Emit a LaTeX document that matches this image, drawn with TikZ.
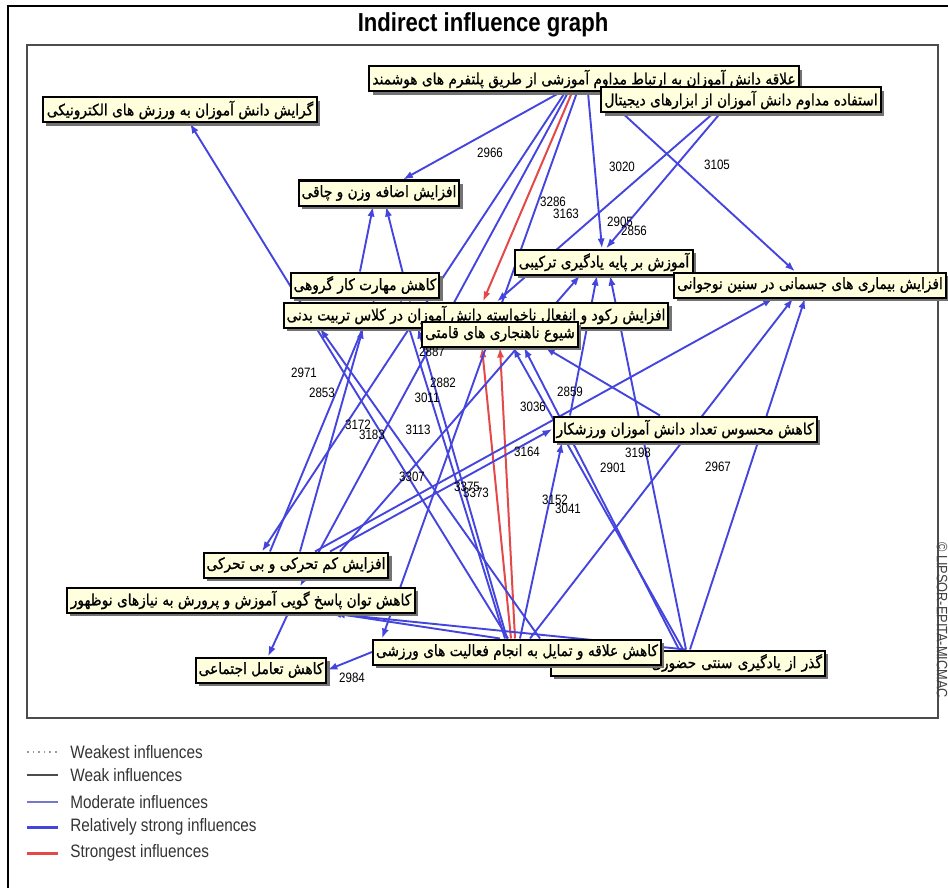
\documentclass[tikz,border=0pt]{standalone}
\usepackage{fontspec}
\setmainfont{Liberation Sans}
\newfontfamily\farsi[Script=Arabic,FakeStretch=0.88,FakeBold=1]{DejaVu Sans}
\newfontfamily\narrowsans[FakeStretch=0.85]{Liberation Sans}
\TeXXeTstate=1
\usetikzlibrary{arrows.meta,shadows,backgrounds}

\definecolor{relblue}{RGB}{68,68,222}
\definecolor{topred}{RGB}{228,72,72}
\definecolor{modblue}{RGB}{118,118,205}
\definecolor{boxyellow}{RGB}{255,255,222}

\tikzset{
    factor/.style={draw=black, line width=1pt, fill=boxyellow, inner sep=1.5pt,
        minimum height=12.5pt, font=\farsi\fontsize{7.8}{9}\selectfont,
        drop shadow={shadow xshift=1.6pt, shadow yshift=-1.6pt, fill=black!55, opacity=1}},
    relstrong/.style={draw=relblue, line width=0.95pt, -{Latex[length=5pt,width=3.6pt]}},
    strongest/.style={draw=topred, line width=1pt, -{Latex[length=5pt,width=3.6pt]}},
    val/.style={font=\narrowsans\fontsize{6.8}{7}\selectfont, inner sep=0pt},
    legtext/.style={font=\narrowsans\fontsize{9}{10}\selectfont, text=black!80, anchor=west, inner sep=0pt},
}

\begin{document}
\begin{tikzpicture}[x=0.5pt, y=-0.5pt]
    \useasboundingbox (0,0) rectangle (948,888);
    \draw[line width=1pt] (8,888) -- (8,6) -- (948,6);
    \node[font=\narrowsans\bfseries\fontsize{13}{15}\selectfont] (title) at (483,25) {Indirect influence graph};

    % factors
    \node[factor, minimum width=211pt] (n1) at (584,79) {\beginR علاقه دانش آموزان به ارتباط مداوم آموزشی از طریق پلتفرم های هوشمند\endR};
    \node[factor, minimum width=134pt] (n2) at (741,100) {\beginR استفاده مداوم دانش آموزان از ابزارهای دیجیتال\endR};
    \node[factor, minimum width=137pt] (n3) at (180,110) {\beginR گرایش دانش آموزان به ورزش های الکترونیکی\endR};
    \node[factor, minimum width=77pt] (n4) at (379,193) {\beginR افزایش اضافه وزن و چاقی\endR};
    \node[factor, minimum width=73pt] (n5) at (365,285) {\beginR کاهش مهارت کار گروهی\endR};
    \node[factor, minimum width=89pt] (n6) at (604,262) {\beginR آموزش بر پایه یادگیری ترکیبی\endR};
    \node[factor, minimum width=128pt] (n7) at (810,285) {\beginR افزایش بیماری های جسمانی در سنین نوجوانی\endR};
    \node[factor, minimum width=188pt] (n8) at (476,315) {\beginR افزایش رکود و انفعال ناخواسته دانش آموزان در کلاس تربیت بدنی\endR};
    \node[factor, minimum width=77pt] (n9) at (500,334) {\beginR شیوع ناهنجاری های قامتی\endR};
    \node[factor, minimum width=128pt] (n10) at (685,429) {\beginR کاهش محسوس تعداد دانش آموزان ورزشکار\endR};
    \node[factor, minimum width=89pt] (n11) at (296,565) {\beginR افزایش کم تحرکی و بی تحرکی\endR};
    \node[factor, minimum width=174pt] (n12) at (241,600) {\beginR کاهش توان پاسخ گویی آموزش و پرورش به نیازهای نوظهور\endR};
    \node[factor, text width=134pt, align=right] (n14) at (688,663) {\beginR گذر از یادگیری سنتی حضوری\endR};
    \node[factor, minimum width=140pt] (n13) at (517,652) {\beginR کاهش علاقه و تمایل به انجام فعالیت های ورزشی\endR};
    \node[factor, minimum width=62pt] (n15) at (261,670) {\beginR کاهش تعامل اجتماعی\endR};

    \begin{pgfonlayer}{background}
    \draw[line width=1.2pt, black!70] (27,45) rectangle (938,718);
    % strongest influences
    \draw[strongest] (n1.south -| 572,0) -- (n8.north -| 483,0);
    \draw[strongest] (n13.north -| 511,0) -- (n9.south -| 482,0);
    \draw[strongest] (n13.north -| 515,0) -- (n9.south -| 500,0);
    % relatively strong influences
    \draw[relstrong] (n1.south -| 560,0) -- (n4.north -| 403,0);
    \draw[relstrong] (n1.south -| 588,0) -- (n6.north -| 602,0);
    \draw[relstrong] (n1.south -| 565,0) -- (n11.north -| 262,0);
    \draw[relstrong] (n1.south -| 568,0) -- (n12.north -| 300,0);
    \draw[relstrong] (n1.south -| 577,0) -- (n13.north -| 382,0);
    \draw[relstrong] (n1.south -| 600,0) -- (n7.north -| 795,0);
    \draw[relstrong] (n2.south -| 713,0) -- (n8.north -| 497,0);
    \draw[relstrong] (n2.south -| 720,0) -- (n6.north -| 606,0);
    \draw[relstrong] (n5.north -| 360,0) -- (n4.south -| 373,0);
    \draw[relstrong] (n8.north -| 410,0) -- (n4.south -| 386,0);
    \draw[relstrong] (n13.north -| 508,0) -- (n3.south -| 190,0);
    \draw[relstrong] (n10.north -| 570,0) -- (n6.south -| 597,0);
    \draw[relstrong] (n14.north -| 686,0) -- (n6.south -| 610,0);
    \draw[relstrong] (n11.north -| 340,0) -- (n6.south -| 580,0);
    \draw[relstrong] (n11.north -| 315,0) -- (n7.south -| 773,0);
    \draw[relstrong] (n13.north -| 530,0) -- (n7.south -| 793,0);
    \draw[relstrong] (n14.north -| 690,0) -- (n7.south -| 805,0);
    \draw[relstrong] (n14.north -| 683,0) -- (n9.south -| 513,0);
    \draw[relstrong] (n14.north -| 679,0) -- (n9.south -| 524,0);
    \draw[relstrong] (n10.north -| 660,0) -- (n9.south -| 545,0);
    \draw[relstrong] (n11.north -| 270,0) -- (n5.south -| 375,0);
    \draw[relstrong] (n11.north -| 300,0) -- (n8.south -| 363,0);
    \draw[relstrong] (n11.north -| 330,0) -- (n10.west);
    \draw[relstrong] (n13.north -| 500,0) -- (n12.south -| 335,0);
    \draw[relstrong] (n14.north -| 686,0) -- (n12.south -| 331,0);
    \draw[relstrong] (n12.south -| 288,0) -- (n15.north -| 268,0);
    \draw[relstrong] (n13.west) -- (n15.east);
    \draw[relstrong] (n13.north -| 520,0) -- (n10.south -| 562,0);
    \draw[relstrong] (n13.north -| 505,0) -- (n5.south -| 400,0);
    \draw[relstrong] (n13.north -| 507,0) -- (n8.south -| 418,0);
    \draw[relstrong] (n13.north -| 540,0) -- (n8.south -| 320,0);
    \end{pgfonlayer}

    % influence values
    \node[val] (v2966) at (490,153) {2966};
    \node[val] (v3020) at (622,167) {3020};
    \node[val] (v3105) at (717,165) {3105};
    \node[val] (v3286) at (553,202) {3286};
    \node[val] (v3163) at (566,214) {3163};
    \node[val] (v2905) at (620,222) {2905};
    \node[val] (v2856) at (634,231) {2856};
    \node[val] (v2971) at (304,373) {2971};
    \node[val] (v2853) at (322,393) {2853};
    \node[val] (v2887) at (432,352) {2887};
    \node[val] (v2882) at (443,383) {2882};
    \node[val] (v3011) at (427,398) {3011};
    \node[val] (v3172) at (358,425) {3172};
    \node[val] (v3183) at (372,435) {3183};
    \node[val] (v3113) at (418,430) {3113};
    \node[val] (v3307) at (412,477) {3307};
    \node[val] (v3375) at (467,487) {3375};
    \node[val] (v3373) at (476,493) {3373};
    \node[val] (v3036) at (533,407) {3036};
    \node[val] (v2859) at (570,392) {2859};
    \node[val] (v3164) at (527,452) {3164};
    \node[val] (v3152) at (555,500) {3152};
    \node[val] (v3041) at (568,509) {3041};
    \node[val] (v3198) at (638,453) {3198};
    \node[val] (v2901) at (613,468) {2901};
    \node[val] (v2967) at (718,467) {2967};
    \node[val] (v2984) at (352,678) {2984};

    \node[rotate=-90, font=\narrowsans\fontsize{7.5}{8}\selectfont, text=black!75, inner sep=0pt] (credit) at (942,620) {\textcopyright\ LIPSOR-EPITA-MICMAC};

    % legend
    \draw[black!40, line width=0.8pt, dotted] (27,752) -- (58,752);
    \draw[black!70, line width=1pt] (27,775) -- (58,775);
    \draw[modblue, line width=1pt] (27,802) -- (58,802);
    \draw[relblue, line width=1.5pt] (27,827) -- (58,827);
    \draw[topred, line width=1.5pt] (27,853) -- (58,853);
    \node[legtext] (leg1) at (70,752) {Weakest influences};
    \node[legtext] (leg2) at (70,775) {Weak influences};
    \node[legtext] (leg3) at (70,802) {Moderate influences};
    \node[legtext] (leg4) at (70,827) {Relatively strong influences};
    \node[legtext] (leg5) at (70,853) {Strongest influences};
\end{tikzpicture}
\end{document}
